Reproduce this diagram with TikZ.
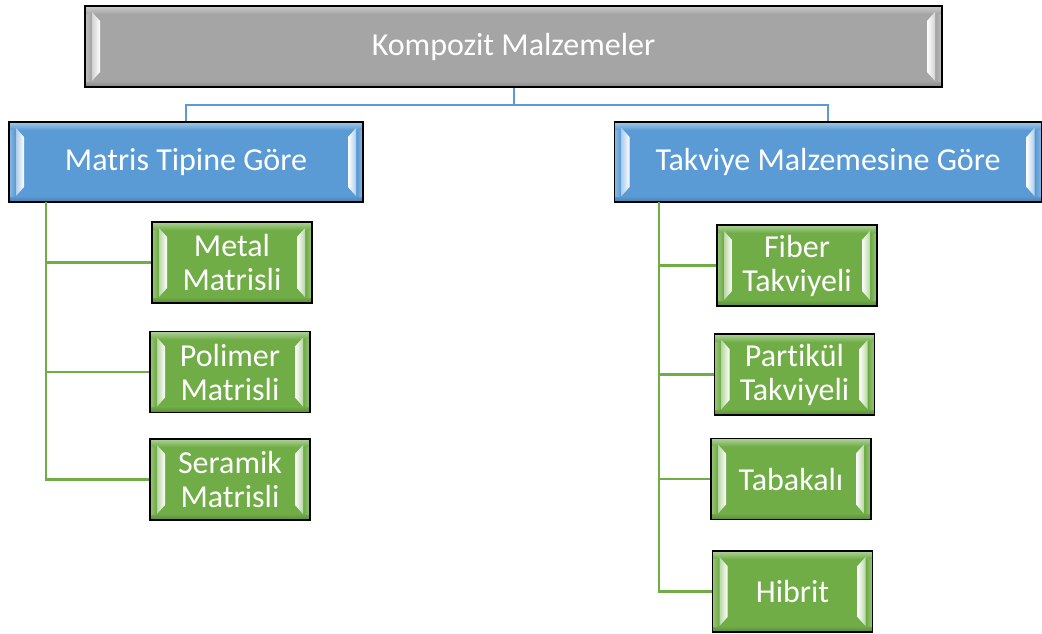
\documentclass[tikz,border=0pt]{standalone}
\usepackage{fontspec}
\setmainfont{Carlito}[Ligatures=NoCommon]
\usetikzlibrary{calc}
\definecolor{gbase}{HTML}{A5A5A5}
\definecolor{bbase}{HTML}{5B9BD5}
\definecolor{nbase}{HTML}{70AD47}
\definecolor{bline}{HTML}{5B9BD5}
\definecolor{nline}{HTML}{70AD47}
\tikzset{
  bevel/.style={draw=black, line width=1.4pt, fill=#1, text=white, align=center,
    inner sep=0pt, font=\fontsize{32}{34}\selectfont,
    path picture={
      \path (path picture bounding box.south west) coordinate (pa)
            (path picture bounding box.north east) coordinate (pb);
      % light top rim and dark bottom rim
      \shade[top color=#1!55!white, bottom color=#1] (pa|-pb) rectangle ([yshift=-8pt]pb);
      \shade[top color=#1, bottom color=#1!80!black] ([yshift=6pt]pa) rectangle (pb|-pa);
      % side rims
      \shade[left color=#1!70!white, right color=#1] ([yshift=6pt]pa) rectangle ([shift={(6pt,-8pt)}]pa|-pb);
      \shade[left color=#1, right color=#1!70!white] ([shift={(-6pt,6pt)}]pb|-pa) rectangle ([yshift=-8pt]pb);
      % highlight bars
      \shade[left color=#1!50!white, right color=white]
        ([shift={(7pt,6pt)}]pa) -- ([shift={(7pt,-6pt)}]pa|-pb)
        -- ([shift={(15pt,-15pt)}]pa|-pb) -- ([shift={(15pt,15pt)}]pa) -- cycle;
      \shade[left color=white, right color=#1!50!white]
        ([shift={(-7pt,6pt)}]pb|-pa) -- ([shift={(-7pt,-6pt)}]pb)
        -- ([shift={(-15pt,-15pt)}]pb) -- ([shift={(-15pt,15pt)}]pb|-pa) -- cycle;
    }},
  topbox/.style={bevel=gbase, minimum width=857pt, minimum height=81pt},
  catbox/.style={bevel=bbase, minimum height=80pt},
  leafbox/.style={bevel=nbase, minimum width=160pt, minimum height=81pt},
  blink/.style={draw=bline, line width=2pt},
  glink/.style={draw=nline, line width=2.4pt},
}
\begin{document}
\begin{tikzpicture}[x=1pt, y=-1pt]
  \useasboundingbox (0,0) rectangle (1042,633);

  \node[topbox] (root) at (513.5,46.5) {Kompozit Malzemeler};

  \node[catbox, minimum width=354pt] (matris) at (186,162) {Matris Tipine Göre};
  \node[catbox, minimum width=427pt] (takviye) at (828,162) {Takviye Malzemesine Göre};

  \node[leafbox] (metal)   at (232,262.5) {Metal\\Matrisli};
  \node[leafbox] (polimer) at (230,372)   {Polimer\\Matrisli};
  \node[leafbox] (seramik) at (230,479.5) {Seramik\\Matrisli};

  \node[leafbox] (fiber)    at (797,265.5) {Fiber\\Takviyeli};
  \node[leafbox] (partikul) at (794.5,374.5) {Partikül\\Takviyeli};
  \node[leafbox] (tabakali) at (791,479)   {Tabakalı};
  \node[leafbox] (hibrit)   at (792.5,591.5) {Hibrit};

  % first level links
  \coordinate (split) at (513.5,105);
  \draw[blink] (root.south) -- (split);
  \draw[blink] (split) -| (matris.north);
  \draw[blink] (split) -| (takviye.north);

  % second level links
  \coordinate (ltrunk) at (46,202);
  \coordinate (rtrunk) at (659,202);
  \foreach \leaf in {metal,polimer,seramik}
    \draw[glink] (ltrunk) |- (\leaf.west);
  \foreach \leaf in {fiber,partikul,tabakali,hibrit}
    \draw[glink] (rtrunk) |- (\leaf.west);
\end{tikzpicture}
\end{document}
